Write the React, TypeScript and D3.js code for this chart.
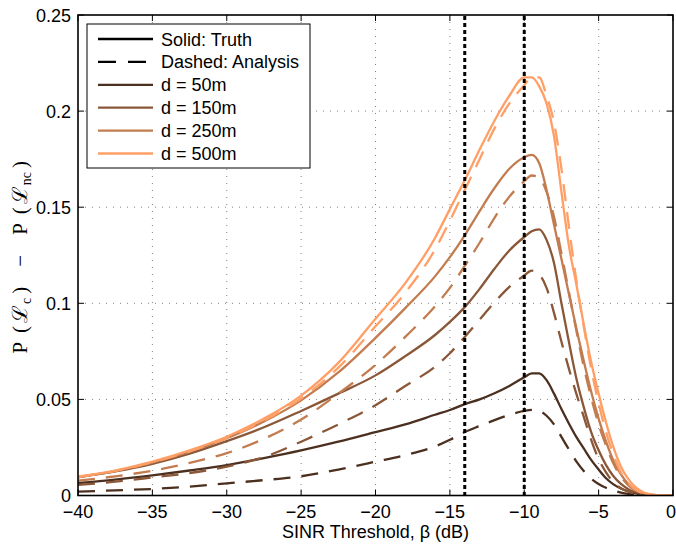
import React from "react";
import * as d3 from "d3";

// SINR threshold grid (dB)
const beta = [-40, -37.5, -35, -32.5, -30, -27.5, -25, -22.5, -20, -18, -16, -15, -14, -13, -12, -11, -10, -9.5, -9, -8.5, -8, -7.5, -7, -6.5, -6, -5.5, -5, -4.5, -4, -3.5, -3, -2.5, -2, -1.5, -1, 0];

// Solid: Truth
const truth50 = [0.0065, 0.0083, 0.0105, 0.013, 0.0158, 0.0195, 0.0235, 0.028, 0.033, 0.037, 0.042, 0.0445, 0.0475, 0.05, 0.0532, 0.057, 0.0615, 0.0635, 0.0635, 0.06, 0.053, 0.045, 0.0375, 0.0305, 0.0245, 0.0185, 0.0135, 0.009, 0.0058, 0.0036, 0.0021, 0.0011, 0.0005, 0.0002, 0.0001, 0];
const truth150 = [0.0095, 0.0125, 0.0165, 0.0218, 0.0283, 0.0355, 0.044, 0.053, 0.0625, 0.0725, 0.0835, 0.0903, 0.098, 0.1075, 0.118, 0.1275, 0.1345, 0.1375, 0.1385, 0.133, 0.121, 0.1, 0.08, 0.061, 0.046, 0.033, 0.0235, 0.0158, 0.01, 0.006, 0.0033, 0.0016, 0.0007, 0.0002, 0.0001, 0];
const truth250 = [0.0096, 0.0127, 0.0171, 0.0228, 0.0298, 0.0385, 0.0495, 0.064, 0.082, 0.0975, 0.114, 0.124, 0.1354, 0.148, 0.16, 0.17, 0.176, 0.1772, 0.173, 0.159, 0.141, 0.123, 0.105, 0.087, 0.07, 0.054, 0.04, 0.028, 0.018, 0.011, 0.006, 0.003, 0.0012, 0.0004, 0.0001, 0];
const truth500 = [0.0098, 0.013, 0.0176, 0.0235, 0.0306, 0.04, 0.052, 0.069, 0.092, 0.1105, 0.134, 0.149, 0.164, 0.18, 0.195, 0.208, 0.2175, 0.2175, 0.213, 0.204, 0.187, 0.158, 0.13, 0.11, 0.089, 0.0695, 0.053, 0.038, 0.025, 0.015, 0.0085, 0.0042, 0.0017, 0.0006, 0.0002, 0];

// Dashed: Analysis
const anal50 = [0.002, 0.0027, 0.0034, 0.0046, 0.0063, 0.008, 0.01, 0.0135, 0.0176, 0.021, 0.0255, 0.029, 0.033, 0.0362, 0.0392, 0.042, 0.044, 0.0445, 0.044, 0.0415, 0.037, 0.0305, 0.024, 0.0178, 0.0128, 0.0088, 0.006, 0.004, 0.0026, 0.0015, 0.0008, 0.0004, 0.0002, 0.0001, 0, 0];
const anal150 = [0.0055, 0.0072, 0.0094, 0.0117, 0.015, 0.02, 0.028, 0.037, 0.047, 0.057, 0.067, 0.074, 0.0825, 0.0915, 0.1005, 0.1085, 0.1145, 0.117, 0.115, 0.108, 0.095, 0.08, 0.066, 0.053, 0.041, 0.029, 0.019, 0.012, 0.0068, 0.0038, 0.002, 0.001, 0.0004, 0.0001, 0, 0];
const anal250 = [0.0077, 0.01, 0.0129, 0.017, 0.022, 0.0295, 0.0395, 0.053, 0.068, 0.0825, 0.0985, 0.108, 0.1195, 0.1315, 0.1445, 0.1555, 0.1635, 0.1665, 0.1655, 0.158, 0.145, 0.126, 0.106, 0.086, 0.067, 0.051, 0.037, 0.026, 0.0165, 0.0098, 0.0053, 0.0026, 0.001, 0.0003, 0.0001, 0];
const anal500 = [0.0097, 0.0128, 0.0173, 0.023, 0.03, 0.039, 0.0505, 0.0665, 0.088, 0.1055, 0.128, 0.143, 0.159, 0.175, 0.191, 0.204, 0.2135, 0.2175, 0.2175, 0.208, 0.194, 0.17, 0.14, 0.112, 0.088, 0.066, 0.048, 0.033, 0.021, 0.012, 0.0065, 0.003, 0.0012, 0.0004, 0.0001, 0];

const distLabels = ["d = 50m", "d = 150m", "d = 250m", "d = 500m"];
const truthSeries = [truth50, truth150, truth250, truth500];
const analSeries = [anal50, anal150, anal250, anal500];
const seriesColors = ["#4b2f1f", "#8a5838", "#c27c50", "#ff9f66"];

const xTicks = [-40, -35, -30, -25, -20, -15, -10, -5, 0];
const yTicks = [0, 0.05, 0.1, 0.15, 0.2, 0.25];
const yTickLabels = ["0", "0.05", "0.1", "0.15", "0.2", "0.25"];
const markerLines = [-14, -10];

const FONT = "'Liberation Sans', Arial, Helvetica, sans-serif";

export default function App() {
  const W = 676, H = 544;
  const L = 78, R = 673, T = 15, B = 495.5;
  const x = d3.scaleLinear().domain([-40, 0]).range([L, R]);
  const y = d3.scaleLinear().domain([0, 0.25]).range([B, T]);
  const line = d3
    .line<number>()
    .x((_, i) => x(beta[i]))
    .y((d) => y(d))
    .curve(d3.curveMonotoneX);

  const fmtX = (v: number) => (v < 0 ? "\u2212" + Math.abs(v) : String(v));
  const tick = 6;
  const dash = "17,11";
  const fs = 18;

  const legX = 87, legY = 24, legW = 223, legH = 144;
  const rowY = (i: number) => 39 + i * 22.9;
  const legendRows = [
    { label: "Solid: Truth", color: "#000", dashed: false },
    { label: "Dashed: Analysis", color: "#000", dashed: true },
    ...distLabels.map((lab, i) => ({ label: lab, color: seriesColors[i], dashed: false })),
  ];

  return (
    <svg
      width={W}
      height={H}
      style={{ position: "absolute", left: 0, top: 0, background: "#fff" }}
      fontFamily={FONT}
    >
      <rect x={0} y={0} width={W} height={H} fill="#fff" />
      <defs>
        <clipPath id="plotclip">
          <rect x={L} y={T} width={R - L} height={B - T} />
        </clipPath>
      </defs>
      {/* grid */}
      <g stroke="#808080" strokeWidth={1} strokeDasharray="1,6">
        {xTicks.slice(1, -1).map((t) => (
          <line key={"gx" + t} x1={x(t)} x2={x(t)} y1={T} y2={B} />
        ))}
        {yTicks.slice(1, -1).map((t) => (
          <line key={"gy" + t} x1={L} x2={R} y1={y(t)} y2={y(t)} />
        ))}
      </g>
      {/* curves */}
      <g clipPath="url(#plotclip)" fill="none" strokeWidth={2.3} strokeLinejoin="round">
        {truthSeries.map((s, i) => (
          <g key={"s" + i}>
            <path d={line(s) || ""} stroke={seriesColors[i]} />
            <path d={line(analSeries[i]) || ""} stroke={seriesColors[i]} strokeDasharray={dash} />
          </g>
        ))}
      </g>
      {/* vertical markers */}
      <g stroke="#000" strokeWidth={3} strokeDasharray="4,3">
        {markerLines.map((m) => (
          <line key={"m" + m} x1={x(m)} x2={x(m)} y1={T + 1} y2={B} />
        ))}
      </g>
      {/* frame and ticks */}
      <rect x={L} y={T} width={R - L} height={B - T} fill="none" stroke="#000" strokeWidth={1.6} />
      <g stroke="#000" strokeWidth={1}>
        {xTicks.map((t) => (
          <g key={"tx" + t}>
            <line x1={x(t)} x2={x(t)} y1={B} y2={B - tick} />
            <line x1={x(t)} x2={x(t)} y1={T} y2={T + tick} />
          </g>
        ))}
        {yTicks.map((t) => (
          <g key={"ty" + t}>
            <line x1={L} x2={L + tick} y1={y(t)} y2={y(t)} />
            <line x1={R} x2={R - tick} y1={y(t)} y2={y(t)} />
          </g>
        ))}
      </g>
      {/* tick labels */}
      <g fontSize={fs} fill="#000">
        {xTicks.map((t) => (
          <text key={"lx" + t} x={Math.min(x(t), 671)} y={518} textAnchor="middle">
            {fmtX(t)}
          </text>
        ))}
        {yTicks.map((t, i) => (
          <text key={"ly" + t} x={71} y={y(t) + 6.5} textAnchor="end">
            {yTickLabels[i]}
          </text>
        ))}
      </g>
      {/* axis labels */}
      <text x={(L + R) / 2} y={538} textAnchor="middle" fontSize={fs}>
        SINR Threshold, β (dB)
      </text>
      <text
        transform={`translate(27, ${(T + B) / 2 + 2}) rotate(-90)`}
        textAnchor="middle"
        fontSize={21}
        fontFamily="'Liberation Serif', 'DejaVu Serif', serif"
      >
        <tspan>P</tspan>
        <tspan dx={9}>(</tspan>
        <tspan dx={3}>ℒ</tspan>
        <tspan fontSize={14} dy={4} dx={1}>c</tspan>
        <tspan dy={-4} dx={4}>)</tspan>
        <tspan dx={20}>−</tspan>
        <tspan dx={20}>P</tspan>
        <tspan dx={9}>(</tspan>
        <tspan dx={3}>ℒ</tspan>
        <tspan fontSize={14} dy={4} dx={1}>nc</tspan>
        <tspan dy={-4} dx={4}>)</tspan>
      </text>
      {/* legend */}
      <rect x={legX} y={legY} width={legW} height={legH} fill="#fff" stroke="#000" strokeWidth={1} />
      {legendRows.map((r, i) => (
        <g key={"leg" + i}>
          <line
            x1={98}
            x2={153}
            y1={rowY(i)}
            y2={rowY(i)}
            stroke={r.color}
            strokeWidth={2.3}
            strokeDasharray={r.dashed ? "18,12" : undefined}
          />
          <text x={161} y={rowY(i) + 6.5} fontSize={fs}>
            {r.label}
          </text>
        </g>
      ))}
    </svg>
  );
}
